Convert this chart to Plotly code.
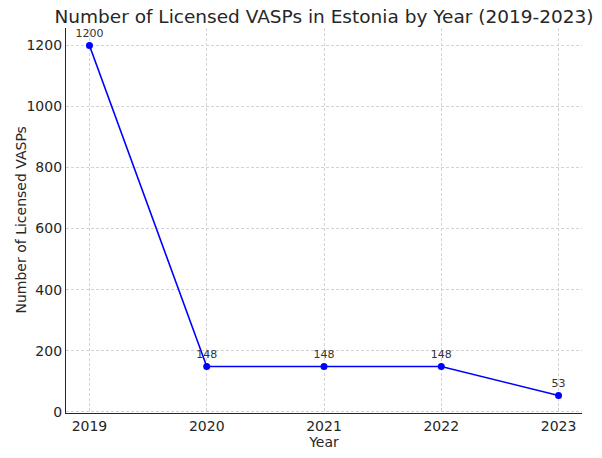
import plotly.graph_objects as go

years = [2019, 2020, 2021, 2022, 2023]
licensed_vasps = [1200, 148, 148, 148, 53]
labels = [str(v) for v in licensed_vasps]
y_ticks = [0, 200, 400, 600, 800, 1000, 1200]

FONT = "DejaVu Sans"
L, R, T, B, W, H = 66, 20, 28, 45, 602, 458

fig = go.Figure()
fig.add_trace(go.Scatter(
    x=years, y=licensed_vasps,
    mode="lines+markers+text",
    line=dict(color="#0000ff", width=1.6),
    marker=dict(color="#0000ff", size=7),
    text=labels,
    textposition="top center",
    textfont=dict(family=FONT, size=11, color="#333333"),
    cliponaxis=False,
    showlegend=False,
))

fig.add_annotation(
    text="Number of Licensed VASPs", textangle=-90,
    xref="paper", yref="paper",
    x=(20 - L) / (W - L - R), y=0.5, xanchor="center", yanchor="middle",
    showarrow=False, font=dict(family=FONT, size=14, color="#262626"),
)

fig.update_layout(
    width=W, height=H,
    margin=dict(l=L, r=R, t=T, b=B),
    paper_bgcolor="white", plot_bgcolor="white",
    font=dict(family=FONT, size=13, color="#262626"),
    title=dict(text="Number of Licensed VASPs in Estonia by Year (2019-2023)",
               x=(66 + 582) / 2 / 602, xanchor="center", y=1 - 17 / 458, yanchor="middle",
               font=dict(family=FONT, size=18.5, color="#262626")),
    xaxis=dict(
        range=[2018.8, 2023.2], tickvals=years, ticktext=[str(y) for y in years],
        showline=True, linecolor="#262626", linewidth=1.2,
        ticks="",
        showgrid=True, gridcolor="#d3d3d3", griddash="3px,2px", gridwidth=0.8,
        zeroline=False, mirror=False, automargin=False,
        title=dict(text="Year", font=dict(size=14), standoff=4),
        tickfont=dict(size=14),
    ),
    yaxis=dict(
        range=[-4.35, 1257.35], tickvals=y_ticks,
        showline=True, linecolor="#262626", linewidth=1.2,
        ticks="",
        showgrid=True, gridcolor="#d3d3d3", griddash="3px,2px", gridwidth=0.8,
        zeroline=False, mirror=False, automargin=False,
        tickfont=dict(size=14),
    ),
)

fig.write_html("out.html", config={"displayModeBar": False},
               post_script="document.body.style.margin='0';")
